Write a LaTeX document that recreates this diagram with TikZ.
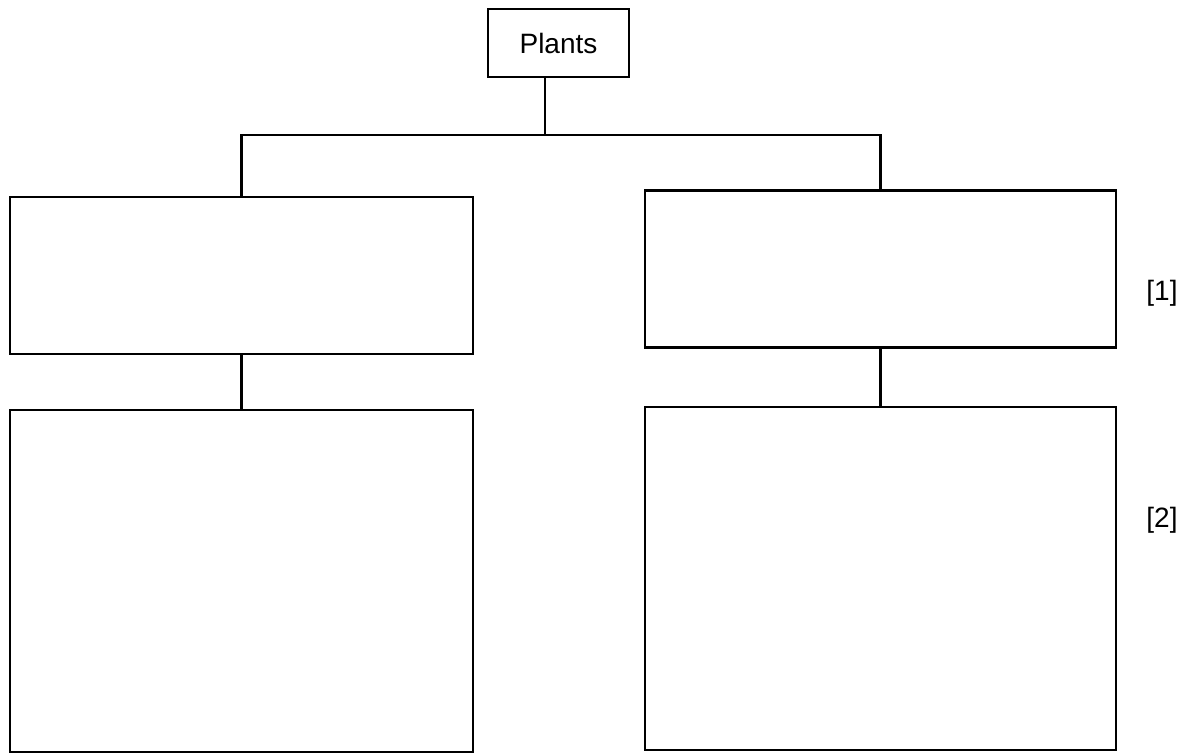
\documentclass[tikz,border=0pt]{standalone}
\usepackage{fontspec}
\setmainfont{Liberation Sans}
\usetikzlibrary{positioning}

\begin{document}
\begin{tikzpicture}[x=1pt, y=-1pt, line width=2.2pt,
    every node/.style={font=\fontsize{28}{33}\selectfont},
    box/.style={rectangle, draw, inner sep=0pt}]
    \useasboundingbox (0,0) rectangle (1193,755);
    \node[box, minimum width=141pt, minimum height=68pt] (plants) at (558.5,43) {Plants};
    \node[box, minimum width=463pt, minimum height=157pt] (lefttop) at (241.5,275.5) {};
    \node[box, minimum width=471pt, minimum height=157pt] (righttop) at (880.5,269) {};
    \node[box, minimum width=463pt, minimum height=342pt] (leftbottom) at (241.5,581) {};
    \node[box, minimum width=471pt, minimum height=343pt] (rightbottom) at (880.5,578.5) {};
    \node (markone) at (1162,293) {[1]};
    \node (marktwo) at (1162,520) {[2]};
    \coordinate (split) at (545,135);
    \draw (plants.south -| split) -- (split);
    \draw (lefttop.north) |- (split) -| (righttop.north);
    \draw (lefttop.south) -- (leftbottom.north);
    \draw (righttop.south) -- (rightbottom.north);
\end{tikzpicture}
\end{document}
